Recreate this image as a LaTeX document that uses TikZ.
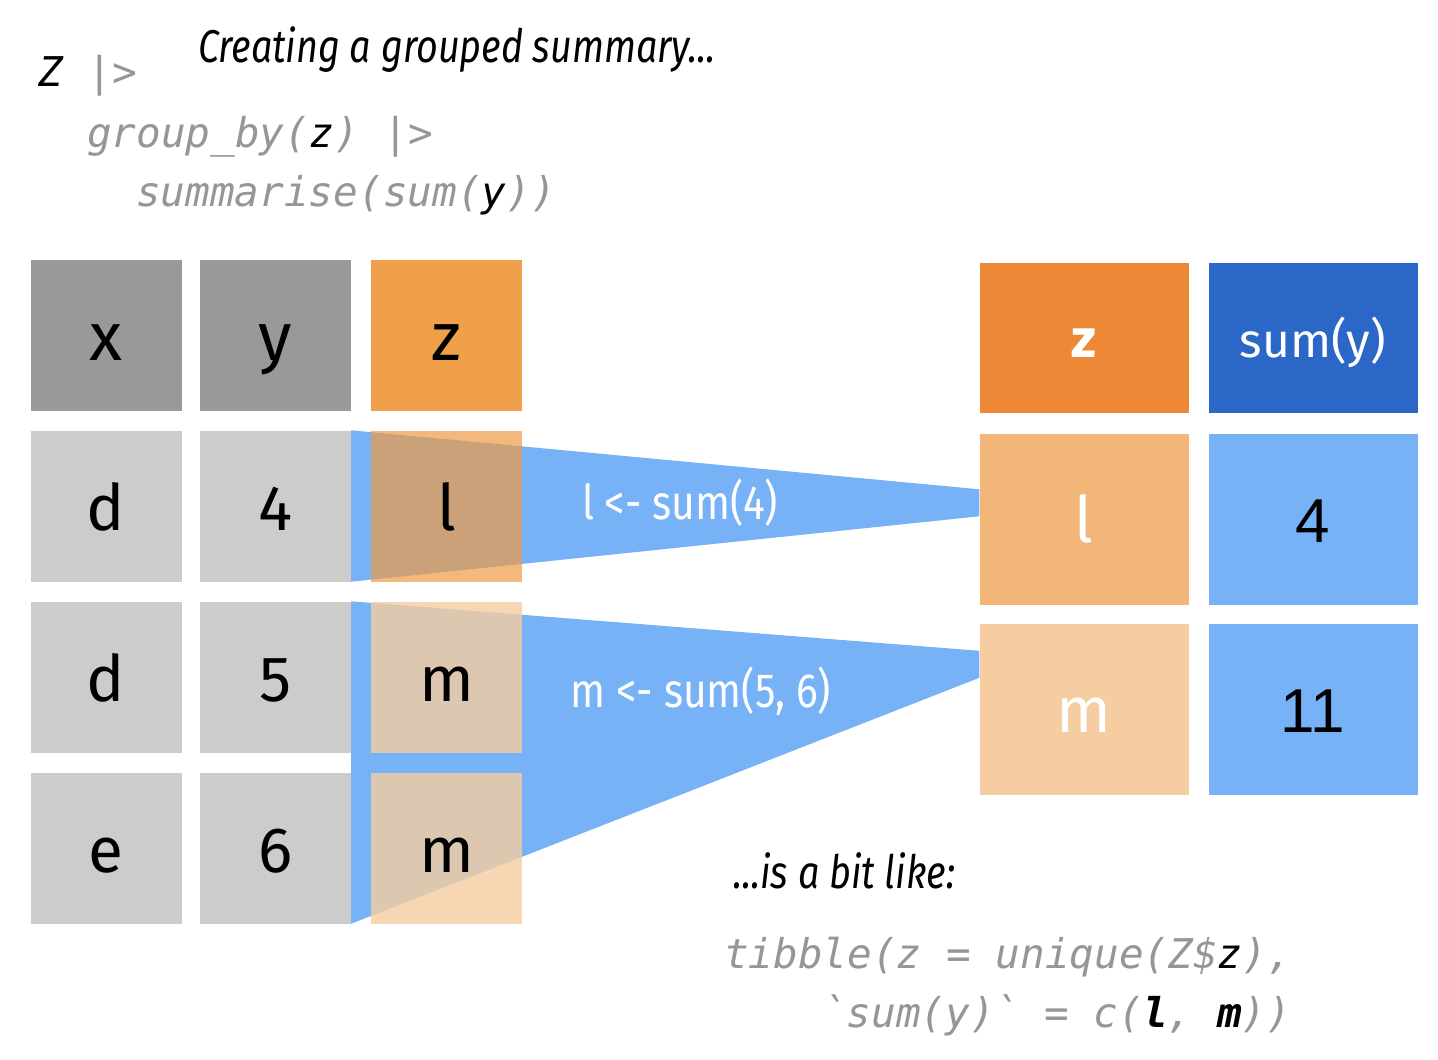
\documentclass[tikz,border=0pt]{standalone}
\usepackage{fontspec}
\setmainfont{Fira Sans}
\newfontfamily\numfont{Liberation Sans}
\newfontfamily\codefont{DejaVu Sans Mono}
\newfontfamily\condfont[FakeStretch=0.85]{Fira Sans}
\newfontfamily\captfont[FakeStretch=0.82]{Fira Sans}

\definecolor{hdrgray}{RGB}{153,153,153}
\definecolor{cellgray}{RGB}{204,204,204}
\definecolor{zhdr}{RGB}{240,160,75}
\definecolor{lorange}{RGB}{238,155,69}
\definecolor{morange}{RGB}{245,205,160}
\definecolor{rzhdr}{RGB}{237,137,54}
\definecolor{sumhdr}{RGB}{42,103,198}
\definecolor{rlcell}{RGB}{241,182,120}
\definecolor{rmcell}{RGB}{246,205,160}
\definecolor{wedgeblue}{RGB}{120,178,246}
\definecolor{codegray}{RGB}{150,150,150}

\begin{document}
\begin{tikzpicture}[x=1pt,y=-1pt,
    cell/.style={minimum width=151pt,minimum height=151pt,inner sep=0pt,
                 text height=48pt,text depth=0pt,
                 font=\fontsize{64}{64}\selectfont},
    hdr/.style={cell,fill=hdrgray,text height=50pt,font=\fontsize{68}{68}\selectfont},
    gcell/.style={cell,fill=cellgray},
    rcell/.style={minimum width=209pt,minimum height=171pt,inner sep=0pt,
                  text height=46pt,text depth=0pt,
                  font=\fontsize{64}{64}\selectfont},
    rhdr/.style={rcell,minimum height=150pt,text height=39pt,text=white},
    code/.style={inner sep=0pt,text=codegray,
                 font=\codefont\itshape\fontsize{41}{41}\selectfont},
    capt/.style={inner sep=0pt,font=\captfont\itshape\fontsize{46}{46}\selectfont},
    lbl/.style={inner sep=0pt,text=white,font=\condfont\fontsize{48}{48}\selectfont}]

\path[fill=white,use as bounding box] (0,0) rectangle (1438,1060);

% Code oben
\node[code,anchor=base west] (zline) at (38,86) {\textcolor{black}{Z} |>};
\node[code,anchor=base west] (grpline) at (87,147) {group\_by(\textcolor{black}{z}) |>};
\node[code,anchor=base west] (sumline) at (136,206) {summarise(sum(\textcolor{black}{y}))};
\node[capt,anchor=base west] (title) at (198,62) {Creating a grouped summary...};

% Tabelle links
\node[hdr] (xh) at (106,335) {x};
\node[hdr] (yh) at (275.5,335) {y};
\node[hdr,fill=zhdr] (zh) at (446.5,335) {z};

\node[gcell] (x1) at (106,506) {d};
\node[gcell] (y1) at (275.5,506) {4};
\node[gcell] (x2) at (106,677) {d};
\node[gcell] (y2) at (275.5,677) {5};
\node[gcell] (x3) at (106,848) {e};
\node[gcell] (y3) at (275.5,848) {6};

% Tabelle rechts
\node[rhdr,fill=rzhdr,font=\bfseries\fontsize{54}{54}\selectfont] (rzh) at (1084,338) {z};
\node[rhdr,fill=sumhdr,font=\fontsize{48}{48}\selectfont] (rsh) at (1313,338) {sum(y)};
\node[rcell,fill=rlcell,text=white] (rl) at (1084,519) {l};
\node[rcell,fill=rmcell,text=white,text height=45pt] (rm) at (1084,709.5) {m};
\node[rcell,fill=wedgeblue,font=\numfont\fontsize{62}{62}\selectfont] (r4) at (1313,519) {4};
\node[rcell,fill=wedgeblue,font=\numfont\fontsize{62}{62}\selectfont] (r11) at (1313,709.5) {11};

% Keile
\fill[wedgeblue] (y1.north east) -- ([yshift=-56pt]rl.north west)
    -- ([yshift=-83pt]rl.north west) -- (y1.south east) -- cycle;
\fill[wedgeblue] (y2.north east) -- ([yshift=-27pt]rm.north west)
    -- ([yshift=-54pt]rm.north west) -- (y3.south east) -- cycle;

% Gruppen z
\node[cell,fill=lorange,fill opacity=0.7,text opacity=1] (z1) at (446.5,506) {l};
\node[cell,fill=morange,fill opacity=0.8,text opacity=1] (z2) at (446.5,677) {m};
\node[cell,fill=morange,fill opacity=0.8,text opacity=1] (z3) at (446.5,848) {m};

\node[lbl] (lab1) at (680,503) {l <- sum(4)};
\node[lbl] (lab2) at (701,691) {m <- sum(5, 6)};

% Code unten
\node[capt,anchor=base west] (liketxt) at (733,888) {...is a bit like:};
\node[code,anchor=base west] (tibline) at (724,968) {tibble(z = unique(Z\$\textcolor{black}{z}),};
\node[code,anchor=base west] (cline) at (822,1027) {\textasciigrave sum(y)\textasciigrave{} = c(\textcolor{black}{\bfseries l}, \textcolor{black}{\bfseries m}))};

\end{tikzpicture}
\end{document}
